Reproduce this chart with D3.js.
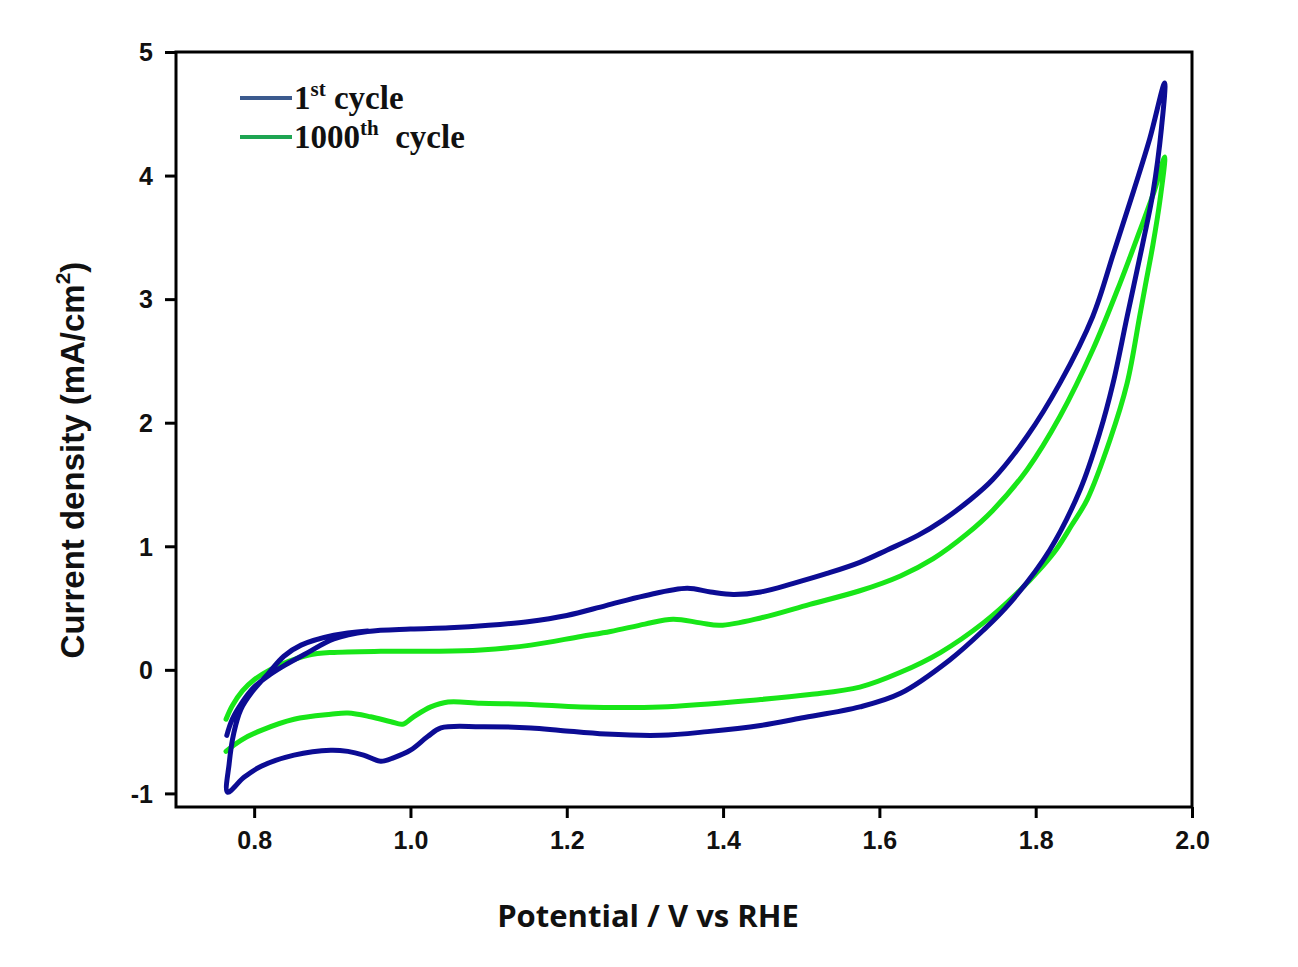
<!DOCTYPE html>
<html>
<head>
<meta charset="utf-8">
<script src="https://cdn.jsdelivr.net/npm/d3@7"></script>
<style>
  body { margin: 0; background: #fff; }
</style>
</head>
<body>
<div id="content"></div>
<script>
// cyclic voltammograms (V vs RHE, mA/cm2)
let cycle1V = [0.765, 0.772, 0.785, 0.800, 0.820, 0.840, 0.866, 0.902, 0.945, 1.00, 1.05, 1.10, 1.15, 1.20, 1.25, 1.30, 1.354, 1.384, 1.413, 1.448, 1.49, 1.533, 1.575, 1.61, 1.65, 1.681, 1.715, 1.745, 1.789, 1.831, 1.873, 1.90, 1.925, 1.946, 1.965,
  1.961, 1.950, 1.937, 1.917, 1.899, 1.882, 1.857, 1.818, 1.767, 1.733, 1.690, 1.627, 1.575, 1.50, 1.448, 1.38, 1.32, 1.25, 1.192, 1.154, 1.090, 1.039, 1.022, 1.000, 0.979, 0.962, 0.940, 0.920, 0.898, 0.851, 0.809, 0.787, 0.766,
  0.768, 0.774, 0.783, 0.796, 0.818, 0.838, 0.860, 0.902, 0.945];
let cycle1J = [-0.53, -0.40, -0.26, -0.14, -0.04, 0.04, 0.13, 0.25, 0.31, 0.33, 0.34, 0.36, 0.39, 0.44, 0.52, 0.60, 0.66, 0.63, 0.61, 0.63, 0.70, 0.78, 0.87, 0.97, 1.09, 1.21, 1.37, 1.54, 1.89, 2.32, 2.86, 3.38, 3.87, 4.30, 4.75,
  4.39, 3.86, 3.45, 2.86, 2.32, 1.92, 1.46, 0.97, 0.54, 0.32, 0.08, -0.19, -0.30, -0.39, -0.45, -0.50, -0.53, -0.52, -0.49, -0.47, -0.46, -0.47, -0.54, -0.65, -0.71, -0.74, -0.69, -0.66, -0.65, -0.69, -0.78, -0.87, -0.99,
  -0.76, -0.51, -0.32, -0.19, -0.03, 0.11, 0.20, 0.28, 0.315];

let cycle1000V = [0.764, 0.772, 0.785, 0.800, 0.820, 0.845, 0.870, 0.898, 0.962, 1.026, 1.090, 1.154, 1.218, 1.256, 1.30, 1.336, 1.371, 1.396, 1.448, 1.511, 1.575, 1.627, 1.669, 1.712, 1.745, 1.789, 1.831, 1.873, 1.908, 1.933, 1.952, 1.965,
  1.959, 1.950, 1.940, 1.933, 1.917, 1.895, 1.866, 1.846, 1.827, 1.809, 1.776, 1.733, 1.678, 1.627, 1.575, 1.511, 1.448, 1.32, 1.218, 1.154, 1.090, 1.048, 1.026, 1.004, 0.990, 0.975, 0.949, 0.920, 0.898, 0.851, 0.809, 0.783, 0.764];
let cycle1000J = [-0.40, -0.29, -0.17, -0.08, 0.00, 0.07, 0.12, 0.14, 0.15, 0.15, 0.16, 0.20, 0.27, 0.31, 0.37, 0.41, 0.38, 0.36, 0.42, 0.53, 0.64, 0.76, 0.90, 1.10, 1.29, 1.62, 2.05, 2.59, 3.13, 3.55, 3.88, 4.15,
  3.80, 3.44, 3.10, 2.86, 2.32, 1.86, 1.38, 1.17, 0.98, 0.84, 0.62, 0.38, 0.14, -0.02, -0.14, -0.20, -0.24, -0.30, -0.30, -0.28, -0.27, -0.26, -0.30, -0.38, -0.44, -0.42, -0.38, -0.35, -0.36, -0.40, -0.49, -0.57, -0.66];

let xTicks = [0.8, 1.0, 1.2, 1.4, 1.6, 1.8, 2.0];
let yTicks = [-1, 0, 1, 2, 3, 4, 5];

let width = 1298;
let height = 967;
let margin = {left: 176, top: 52, right: 106, bottom: 160};

let svg = d3.select("#content").append("svg")
  .attr("width", width)
  .attr("height", height);

let x = d3.scaleLinear().domain([0.7, 2.0]).range([margin.left, width - margin.right]);
let y = d3.scaleLinear().domain([-1.11, 5]).range([height - margin.bottom, margin.top]);

// curves
let line = d3.line()
  .x(function(d) { return x(d[0]); })
  .y(function(d) { return y(d[1]); })
  .curve(d3.curveCatmullRom.alpha(0.5));

let series = [
  {v: cycle1000V, j: cycle1000J, color: "#18e618"},
  {v: cycle1V, j: cycle1J, color: "#0c0c94"},
];

series.forEach(function(s) {
  svg.append("path")
    .datum(s.v.map(function(v, i) { return [v, s.j[i]]; }))
    .attr("d", line)
    .style("fill", "none")
    .style("stroke", s.color)
    .style("stroke-width", 5)
    .style("stroke-linejoin", "round")
    .style("stroke-linecap", "round");
});

// axes
let xAxis = svg.append("g")
  .attr("transform", "translate(0," + (height - margin.bottom) + ")")
  .call(d3.axisBottom(x).tickValues(xTicks).tickFormat(d3.format(".1f")).tickSizeOuter(0).tickSize(11).tickPadding(10));
let yAxis = svg.append("g")
  .attr("transform", "translate(" + margin.left + ",0)")
  .call(d3.axisLeft(y).tickValues(yTicks).tickFormat(function(d) { return String(d); }).tickSizeOuter(0).tickSize(11).tickPadding(12));

[xAxis, yAxis].forEach(function(a) {
  a.select(".domain").remove();
  a.selectAll("line").style("stroke", "#000").style("stroke-width", 3);
  a.selectAll("text")
    .style("font-family", "'Liberation Sans', Arial, sans-serif")
    .style("font-weight", "bold")
    .style("font-size", "25px")
    .style("fill", "#111");
});
xAxis.selectAll("text").attr("dy", "0.85em");
yAxis.selectAll("text").attr("dy", "0.35em");

// frame
svg.append("rect")
  .attr("x", margin.left)
  .attr("y", margin.top)
  .attr("width", width - margin.left - margin.right)
  .attr("height", height - margin.top - margin.bottom)
  .style("fill", "none")
  .style("stroke", "#000")
  .style("stroke-width", 3);

// axis titles
svg.append("text")
  .attr("x", 648)
  .attr("y", 927)
  .attr("text-anchor", "middle")
  .style("font-family", "'Open Sans', sans-serif")
  .style("font-weight", "bold")
  .style("font-size", "31px")
  .style("fill", "#111")
  .text("Potential / V vs RHE");

let yTitle = svg.append("text")
  .attr("transform", "translate(84,460) rotate(-90)")
  .attr("text-anchor", "middle")
  .style("font-family", "'Liberation Sans', Arial, sans-serif")
  .style("font-weight", "bold")
  .style("font-size", "33px")
  .style("fill", "#111");
yTitle.append("tspan").text("Current density (mA/cm");
yTitle.append("tspan").attr("dy", -14).style("font-size", "21px").text("2");
yTitle.append("tspan").attr("dy", 14).text(")");

// legend
let legendItems = [
  {base: "1", sup: "st", rest: " cycle", color: "#3b5a8e"},
  {base: "1000", sup: "th", rest: "  cycle", color: "#1ea552"},
];
legendItems.forEach(function(d, i) {
  let ly = 98 + i * 39;
  svg.append("line")
    .attr("x1", 240).attr("x2", 292)
    .attr("y1", ly).attr("y2", ly)
    .style("stroke", d.color)
    .style("stroke-width", 4);
  let t = svg.append("text")
    .attr("x", 294)
    .attr("y", ly + 11)
    .style("font-family", "'Liberation Serif', 'Times New Roman', serif")
    .style("font-weight", "bold")
    .style("font-size", "33px")
    .style("fill", "#111")
    .style("white-space", "pre");
  t.append("tspan").text(d.base);
  t.append("tspan").attr("dy", -13).style("font-size", "21px").text(d.sup);
  t.append("tspan").attr("dy", 13).text(d.rest);
});
</script>
</body>
</html>
